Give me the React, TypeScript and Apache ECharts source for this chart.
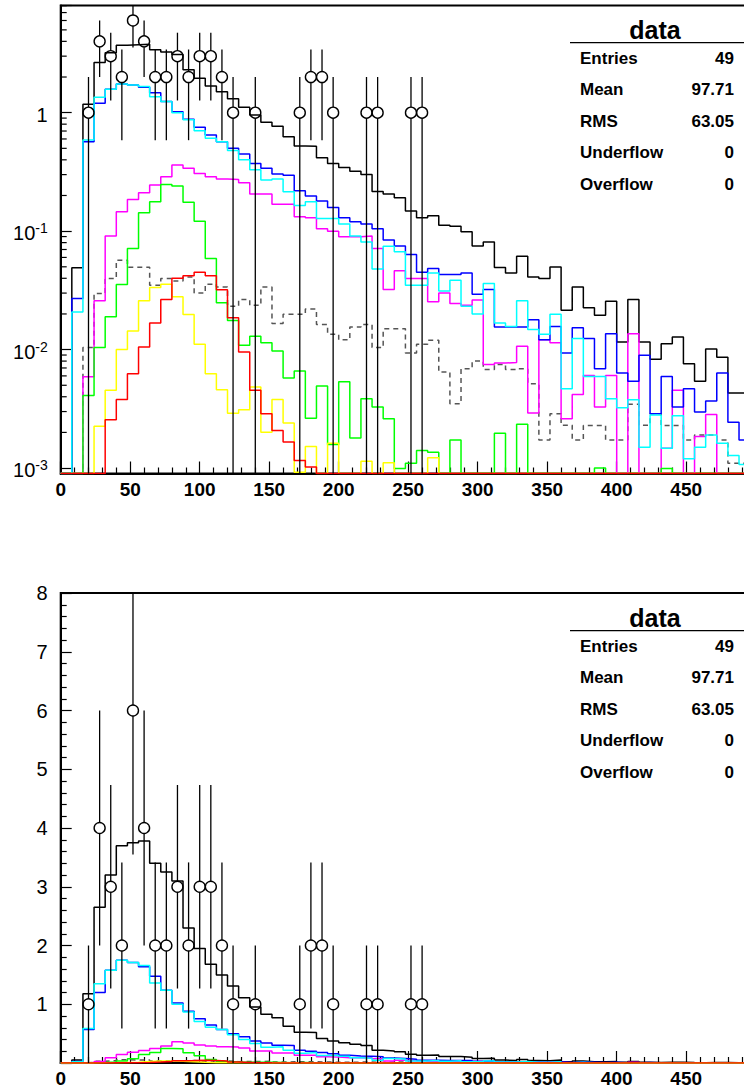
import React, { useEffect, useRef } from "react";
import * as echarts from "echarts";

// Histogram binning: 8-unit wide bins starting at 0
const BIN_WIDTH = 8;
const X_MAX = 500;
const LOG_MIN = 0.0009;
const LOG_MAX = 8.03;
const LIN_MAX = 8;
const FONT = '"Liberation Sans", Arial, Helvetica, sans-serif';

// Stacked-total MC prediction (black)
const totalMC = [
  0, 0.049, 1.18, 2.65, 3.2, 3.7, 3.75, 3.78, 3.4, 3.25,
  3.1, 2.3, 1.95, 1.68, 1.5, 1.31, 1.11, 0.955, 0.83, 0.77,
  0.627, 0.523, 0.52, 0.417, 0.373, 0.345, 0.321, 0.3, 0.216, 0.206,
  0.191, 0.148, 0.13, 0.135, 0.112, 0.11, 0.0986, 0.075, 0.081, 0.0493,
  0.0444, 0.0615, 0.0411, 0.0398, 0.0499, 0.0215, 0.0338, 0.0226, 0.0195, 0.0256,
  0.0116, 0.0265, 0.0116, 0.0083, 0.0112, 0.0128, 0.0076, 0.0054, 0.0101, 0.0086,
  0.0043, 0.0043,
];

// Blue component
const blueMC = [
  0, 0.027, 0.569, 1.2, 1.58, 1.75, 1.71, 1.64, 1.476, 1.24,
  1.02, 0.88, 0.752, 0.648, 0.569, 0.5, 0.448, 0.373, 0.339, 0.303,
  0.297, 0.219, 0.198, 0.18, 0.158, 0.13, 0.12, 0.115, 0.105, 0.084,
  0.075, 0.0635, 0.045, 0.0484, 0.043, 0.043, 0.0444, 0.0293, 0.0321, 0.0155,
  0.0155, 0.0155, 0.0179, 0.0121, 0.0157, 0.00936, 0.0153, 0.0124, 0.0069, 0.0136,
  0.00634, 0.0054, 0.00895, 0.00288, 0.00594, 0.00327, 0.00468, 0.00297, 0.00368, 0.00634,
  0.00244, 0.00173,
];

// Cyan component
const cyanMC = [
  0, 0.0208, 0.588, 1.35, 1.58, 1.75, 1.71, 1.66, 1.36, 1.24,
  1.0, 0.87, 0.705, 0.608, 0.569, 0.48, 0.4, 0.33, 0.27, 0.275,
  0.215, 0.165, 0.177, 0.128, 0.128, 0.115, 0.091, 0.081, 0.048, 0.0747,
  0.067, 0.035, 0.035, 0.0444, 0.0313, 0.0385, 0.0232, 0.02, 0.0361, 0.0168,
  0.0157, 0.0258, 0.0148, 0.0135, 0.0199, 0.00468, 0.0124, 0.00594, 0.00594, 0.00385,
  0.00323, 0.00377, 0.0015, 0.0028, 0.00147, 0.00277, 0.0012, 0.0015, 0.0019, 0.00162,
  0.00128, 0.00107,
];

// Magenta component
const magentaMC = [
  0, 0, 0.0059, 0.0258, 0.0912, 0.146, 0.185, 0.211, 0.245, 0.288,
  0.361, 0.339, 0.307, 0.288, 0.275, 0.273, 0.256, 0.206, 0.206, 0.169,
  0.169, 0.132, 0.13, 0.105, 0.1, 0.0898, 0.0898, 0.091, 0.0714, 0.0321,
  0.0462, 0.0398, 0.0398, 0.0253, 0.0301, 0.0245, 0.0237, 0.0262, 0.0075, 0.0077,
  0.0078, 0.0107, 0.00292, 0.0121, 0.0114, 0.00261, 0.00418, 0.00605, 0.00327, 0.00605,
  0, 0.0136, 0, 0, 0.00147, 0.00453, 0, 0.00185, 0.00284, 0,
  0, 0,
];

// Green component
const greenMC = [
  0, 0, 0.0041, 0.0104, 0.0189, 0.0354, 0.0714, 0.143, 0.177, 0.248,
  0.241, 0.175, 0.1215, 0.0588, 0.0249, 0.0176, 0.0109, 0.01294, 0.01145, 0.00973,
  0.00575, 0.00659, 0.00264, 0.00492, 0.00158, 0.00536, 0.00179, 0.00385, 0.00327, 0.00261,
  0.00099, 0.0011, 0.00141, 0.00136, 0, 0.00173, 0, 0, 0, 0.00197,
  0, 0.00234, 0, 0, 0, 0, 0, 0, 0.001, 0,
  0, 0, 0, 0, 0.00099, 0, 0, 0, 0, 0,
  0, 0,
];

// Yellow component
const yellowMC = [
  0, 0, 0, 0.00225, 0.00453, 0.01, 0.01436, 0.0258, 0.0334, 0.0357,
  0.0279, 0.0198, 0.0111, 0.00627, 0.00459, 0.0029, 0.0031, 0.00483, 0.00201, 0.0038,
  0.0024, 0.00092, 0.00152, 0, 0.00162, 0, 0, 0.00114, 0, 0.00111,
  0, 0, 0, 0.00122, 0, 0, 0, 0, 0, 0,
  0, 0, 0, 0, 0, 0, 0, 0, 0, 0,
  0, 0, 0, 0, 0, 0, 0, 0, 0, 0,
  0, 0,
];

// Red component
const redMC = [
  0, 0, 0, 0, 0.00256, 0.0038, 0.00627, 0.0105, 0.0168, 0.0265,
  0.04, 0.042, 0.045, 0.042, 0.032, 0.0186, 0.00955, 0.00453, 0.00288, 0.00208,
  0.00166, 0.00116, 0.00102, 0, 0, 0, 0, 0, 0, 0,
  0, 0, 0, 0, 0, 0, 0, 0, 0, 0,
  0, 0, 0, 0, 0, 0, 0, 0, 0, 0,
  0, 0, 0, 0, 0, 0, 0, 0, 0, 0,
  0, 0,
];

// Grey dashed component
const greyMC = [
  0, 0, 0.0104, 0.0297, 0.0398, 0.0569, 0.0496, 0.0496, 0.035, 0.0398,
  0.038, 0.041, 0.03, 0.0357, 0.0338, 0.0232, 0.0265, 0.0237, 0.0338, 0.0166,
  0.0199, 0.0199, 0.022, 0.0163, 0.0135, 0.0121, 0.0155, 0.0163, 0.0104, 0.015,
  0.015, 0.00936, 0.0111, 0.012, 0.00647, 0.00349, 0.0069, 0.008, 0.0068, 0.0075,
  0.0068, 0.0069, 0.00516, 0.00173, 0.00288, 0.0023, 0.00173, 0.00229, 0.00229, 0.00173,
  0.00173, 0.00345, 0.0023, 0.00288, 0.00229, 0.00229, 0.00173, 0.0019, 0.0019, 0.00173,
  0.0011, 0.0011,
];

// Observed data: bin centres and counts
const dataX = [20, 28, 36, 44, 52, 60, 68, 76, 84, 92, 100, 108, 116, 124, 140, 172, 180, 188, 196, 220, 228, 252, 260];
const dataN = [1, 4, 3, 2, 6, 4, 2, 2, 3, 2, 3, 3, 2, 1, 1, 1, 2, 2, 1, 1, 1, 1, 1];

// Statistics box
const statLabels = ["Entries", "Mean", "RMS", "Underflow", "Overflow"];
const statValues = ["49", "97.71", "63.05", "0", "0"];

// Minor tick values for the logarithmic axis (2..9 x 10^k)
const logMinorTicks: number[] = [];
for (let k = -3; k <= 0; k++) {
  for (let m = 2; m <= 9; m++) {
    const v = m * Math.pow(10, k);
    if (v > LOG_MIN && v < LOG_MAX) logMinorTicks.push(v);
  }
}

const histDefs = [
  { values: greyMC, color: "#555555", dashed: true },
  { values: totalMC, color: "#000000", dashed: false },
  { values: magentaMC, color: "#ff00ff", dashed: false },
  { values: blueMC, color: "#0000ff", dashed: false },
  { values: cyanMC, color: "#00ffff", dashed: false },
  { values: greenMC, color: "#00ff00", dashed: false },
  { values: yellowMC, color: "#ffff00", dashed: false },
  { values: redMC, color: "#ff0000", dashed: false },
];

function stepPoints(values: number[], floor: number) {
  const pts: number[][] = values.map((v, i) => [i * BIN_WIDTH, v > floor ? v : floor]);
  pts.push([values.length * BIN_WIDTH, floor]);
  return pts;
}

function histSeries(gridIdx: number, floor: number) {
  return histDefs.map((h) => ({
    type: "line",
    xAxisIndex: gridIdx,
    yAxisIndex: gridIdx,
    data: stepPoints(h.values, floor),
    step: "end",
    symbol: "none",
    showSymbol: false,
    clip: true,
    silent: true,
    lineStyle: {
      color: h.color,
      width: 1.5,
      type: h.dashed ? [5, 4] : "solid",
    },
  }));
}

function dataSeries(gridIdx: number, lo: number, hi: number) {
  return {
    type: "custom",
    coordinateSystem: "cartesian2d",
    xAxisIndex: gridIdx,
    yAxisIndex: gridIdx,
    silent: true,
    encode: { x: 0, y: 1 },
    data: dataX.map((x, i) => [x, dataN[i]]),
    renderItem: (_params: any, api: any) => {
      const x = api.value(0);
      const n = api.value(1);
      const err = Math.sqrt(n);
      const r = 5.5;
      const c = api.coord([x, n]);
      const top = api.coord([x, Math.min(n + err, hi)]);
      const bot = api.coord([x, Math.max(n - err, lo)]);
      const children: any[] = [];
      if (top[1] < c[1] - r) {
        children.push({
          type: "line",
          shape: { x1: c[0], y1: top[1], x2: c[0], y2: c[1] - r },
          style: { stroke: "#000", lineWidth: 1.3 },
        });
      }
      if (bot[1] > c[1] + r) {
        children.push({
          type: "line",
          shape: { x1: c[0], y1: c[1] + r, x2: c[0], y2: bot[1] },
          style: { stroke: "#000", lineWidth: 1.3 },
        });
      }
      children.push({
        type: "circle",
        shape: { cx: c[0], cy: c[1], r },
        style: { fill: "none", stroke: "#000", lineWidth: 1.4 },
      });
      return { type: "group", children };
    },
    z: 5,
  };
}

function logMinorSeries(gridIdx: number) {
  return {
    type: "custom",
    coordinateSystem: "cartesian2d",
    xAxisIndex: gridIdx,
    yAxisIndex: gridIdx,
    silent: true,
    encode: { x: 0, y: 1 },
    data: logMinorTicks.map((v) => [0, v]),
    renderItem: (_params: any, api: any) => {
      const p = api.coord([0, api.value(1)]);
      return {
        type: "line",
        shape: { x1: p[0], y1: p[1], x2: p[0] + 6, y2: p[1] },
        style: { stroke: "#000", lineWidth: 1.2 },
      };
    },
    z: 4,
  };
}

function statsGraphics(dy: number) {
  const els: any[] = [];
  els.push({
    type: "text",
    x: 655,
    y: 30 + dy,
    style: {
      text: "data",
      fontFamily: FONT,
      fontWeight: "bold",
      fontSize: 25,
      fill: "#000",
      align: "center",
      verticalAlign: "middle",
    },
  });
  els.push({
    type: "line",
    shape: { x1: 570, y1: 42.7 + dy, x2: 744, y2: 42.7 + dy },
    style: { stroke: "#000", lineWidth: 1.3 },
  });
  statLabels.forEach((lab, i) => {
    const y = 58 + i * 31.5 + dy;
    els.push({
      type: "text",
      x: 580,
      y,
      style: {
        text: lab,
        fontFamily: FONT,
        fontWeight: "bold",
        fontSize: 17,
        fill: "#000",
        align: "left",
        verticalAlign: "middle",
      },
    });
    els.push({
      type: "text",
      x: 734,
      y,
      style: {
        text: statValues[i],
        fontFamily: FONT,
        fontWeight: "bold",
        fontSize: 17,
        fill: "#000",
        align: "right",
        verticalAlign: "middle",
      },
    });
  });
  return els;
}

function xAxisCfg(gridIdx: number) {
  return {
    type: "value",
    gridIndex: gridIdx,
    min: 0,
    max: X_MAX,
    interval: 50,
    axisLine: { show: true, onZero: false, lineStyle: { color: "#000", width: 2 } },
    axisTick: { show: true, inside: true, length: 12, lineStyle: { color: "#000", width: 1.2 } },
    minorTick: { show: true, splitNumber: 5, length: 6, lineStyle: { color: "#000", width: 1.2 } },
    splitLine: { show: false },
    minorSplitLine: { show: false },
    axisLabel: {
      margin: 6,
      color: "#000",
      fontFamily: FONT,
      fontWeight: "bold",
      fontSize: 19,
      formatter: (v: number) => (v >= X_MAX ? "" : String(v)),
    },
  };
}

export default function App() {
  const ref = useRef<HTMLDivElement>(null);

  useEffect(() => {
    document.body.style.margin = "0";
    if (!ref.current) return;
    const chart = echarts.init(ref.current, null, { renderer: "svg" });

    const option: any = {
      animation: false,
      backgroundColor: "#ffffff",
      grid: [
        {
          left: 60.7,
          top: 5.5,
          width: 695,
          height: 468,
          show: true,
          borderColor: "#000",
          borderWidth: 2,
          backgroundColor: "transparent",
          outerBoundsMode: "none",
          containLabel: false,
        },
        {
          left: 60.7,
          top: 593,
          width: 695,
          height: 470,
          show: true,
          borderColor: "#000",
          borderWidth: 2,
          backgroundColor: "transparent",
          outerBoundsMode: "none",
          containLabel: false,
        },
      ],
      xAxis: [xAxisCfg(0), xAxisCfg(1)],
      yAxis: [
        {
          type: "log",
          gridIndex: 0,
          logBase: 10,
          min: LOG_MIN,
          max: LOG_MAX,
          axisLine: { show: true, lineStyle: { color: "#000", width: 2 } },
          axisTick: { show: true, inside: true, length: 11, lineStyle: { color: "#000", width: 1.2 } },
          minorTick: { show: false },
          splitLine: { show: false },
          axisLabel: {
            margin: 13,
            color: "#000",
            formatter: (v: number) => {
              const l = Math.log10(v);
              const e = Math.round(l);
              if (Math.abs(l - e) > 1e-6) return "";
              if (e === 0) return "{n|1}";
              return "{n|10}{s|" + e + "}";
            },
            rich: {
              n: { fontFamily: FONT, fontSize: 20, lineHeight: 20, color: "#000", padding: [4, 0, 0, 0] },
              s: { fontFamily: FONT, fontSize: 14, lineHeight: 14, color: "#000", verticalAlign: "top" },
            },
          },
        },
        {
          type: "value",
          gridIndex: 1,
          min: 0,
          max: LIN_MAX,
          interval: 1,
          axisLine: { show: true, onZero: false, lineStyle: { color: "#000", width: 2 } },
          axisTick: { show: true, inside: true, length: 11, lineStyle: { color: "#000", width: 1.2 } },
          minorTick: { show: true, splitNumber: 5, length: 6, lineStyle: { color: "#000", width: 1.2 } },
          splitLine: { show: false },
          minorSplitLine: { show: false },
          axisLabel: {
            margin: 13,
            color: "#000",
            fontFamily: FONT,
            fontSize: 20,
            formatter: (v: number) => (v === 0 ? "" : String(v)),
          },
        },
      ],
      series: [
        logMinorSeries(0),
        ...histSeries(0, LOG_MIN),
        dataSeries(0, LOG_MIN, LOG_MAX),
        ...histSeries(1, 0),
        dataSeries(1, 0, LIN_MAX),
      ],
      graphic: [...statsGraphics(0), ...statsGraphics(588)],
    };

    chart.setOption(option);
    return () => {
      chart.dispose();
    };
  }, []);

  return <div ref={ref} style={{ width: 744, height: 1089 }} />;
}
